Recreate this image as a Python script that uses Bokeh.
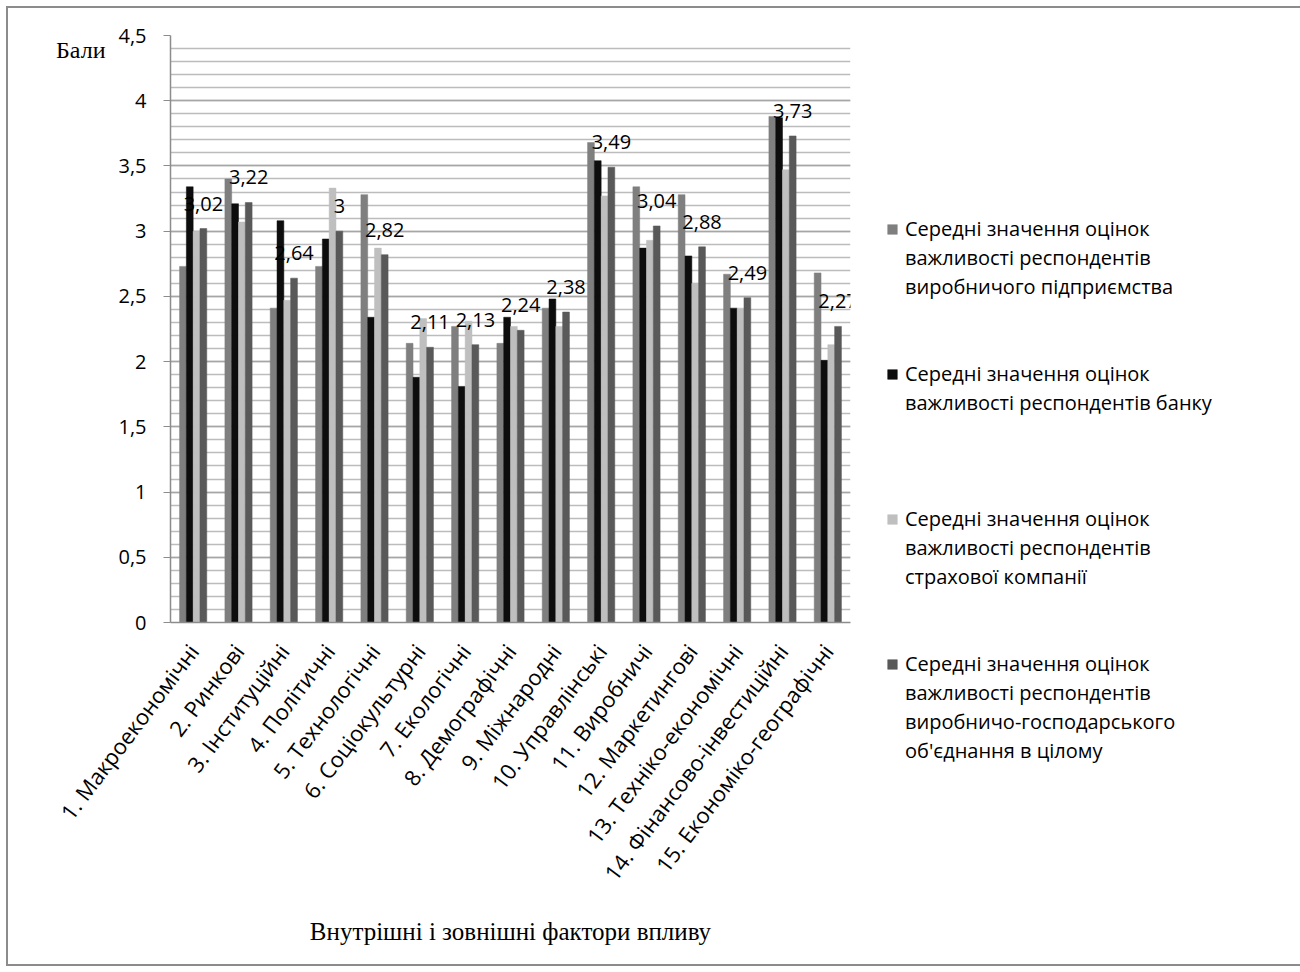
import math
from bokeh.plotting import figure
from bokeh.models import (ColumnDataSource, FactorRange, Range1d, SingleIntervalTicker,
                          FixedTicker, LinearAxis, Legend, LegendItem)
from bokeh.transform import dodge
from bokeh.core.properties import value
from bokeh.embed import file_html
from bokeh.resources import INLINE

categories = ["1. Макроекономічні", "2. Ринкові", "3. Інституційні", "4. Політичні",
              "5. Технологічні", "6. Соціокультурні", "7. Екологічні", "8. Демографічні",
              "9. Міжнародні", "10. Управлінські", "11. Виробничі", "12. Маркетингові",
              "13. Техніко-економічні", "14. Фінансово-інвестиційні", "15. Економіко-географічні"]

enterprise = [2.73, 3.40, 2.41, 2.73, 3.28, 2.14, 2.27, 2.14, 2.41, 3.68, 3.34, 3.28, 2.67, 3.88, 2.68]
bank       = [3.34, 3.21, 3.08, 2.94, 2.34, 1.88, 1.81, 2.34, 2.48, 3.54, 2.87, 2.81, 2.41, 3.87, 2.01]
insurance  = [3.00, 3.07, 2.47, 3.33, 2.87, 2.33, 2.31, 2.27, 2.27, 3.27, 2.93, 2.60, 2.41, 3.47, 2.13]
association = [3.02, 3.22, 2.64, 3.00, 2.82, 2.11, 2.13, 2.24, 2.38, 3.49, 3.04, 2.88, 2.49, 3.73, 2.27]

series_names = [
    "Середні значення оцінок\nважливості респондентів\nвиробничого підприємства",
    "Середні значення оцінок\nважливості респондентів банку",
    "Середні значення оцінок\nважливості респондентів\nстрахової компанії",
    "Середні значення оцінок\nважливості респондентів\nвиробничо-господарського\nоб'єднання в цілому",
]
series_colors = ["#7f7f7f", "#0d0d0d", "#bfbfbf", "#595959"]

y_ticks = [0, 0.5, 1, 1.5, 2, 2.5, 3, 3.5, 4, 4.5]
y_tick_labels = ["0", "0,5", "1", "1,5", "2", "2,5", "3", "3,5", "4", "4,5"]

y_title = "Бали"
x_title = "Внутрішні і зовнішні фактори впливу"

SANS = "Open Sans"
SERIF = "Liberation Serif"

data_labels = [("%g" % v).replace(".", ",") for v in association]

src = ColumnDataSource(dict(cat=categories, s1=enterprise, s2=bank, s3=insurance,
                            s4=association, lab=data_labels))

p = figure(x_range=FactorRange(factors=categories, range_padding=0),
           y_range=Range1d(0, 4.5),
           frame_width=680, frame_height=587,
           min_border_left=162, min_border_top=27, min_border_right=444, min_border_bottom=342,
           output_backend="svg", toolbar_location=None, tools="")
p.styles = {"margin-left": "6px", "margin-top": "6px", "border": "2px solid #8c8c8c"}
p.outline_line_color = None
p.background_fill_color = "white"

bw = 0.15
offsets = [-0.225, -0.075, 0.075, 0.225]
keys = ["s1", "s2", "s3", "s4"]
renderers = []
for k, off, col in zip(keys, offsets, series_colors):
    r = p.vbar(x=dodge("cat", off, range=p.x_range), top=k, width=bw, source=src,
               fill_color=col, line_color=col, line_width=0.5)
    renderers.append(r)

p.text(x=dodge("cat", offsets[3], range=p.x_range), y="s4", text="lab", source=src,
       text_align="center", text_baseline="middle", y_offset=-25,
       text_font=value(SANS), text_font_size="20px", text_color="#000000")

# y axis
yax = p.yaxis[0]
yax.ticker = SingleIntervalTicker(interval=0.5, num_minor_ticks=5)
yax.major_label_overrides = {t: l for t, l in zip(y_ticks, y_tick_labels)}
yax.major_label_text_font = SANS
yax.major_label_text_font_size = "20px"
yax.major_label_text_color = "#000000"
yax.axis_line_color = "#8c8c8c"
yax.axis_line_width = 1.5
yax.major_tick_line_color = "#8c8c8c"
yax.major_tick_out = 7
yax.major_tick_in = 0
yax.minor_tick_line_color = None
yax.major_label_standoff = 17

# "Бали": horizontal caption carried by a bare outer axis
cap = LinearAxis(ticker=FixedTicker(ticks=[]),
                 axis_line_color=None, major_tick_line_color=None, minor_tick_line_color=None,
                 axis_label="\n" + y_title, axis_label_text_font=SERIF,
                 axis_label_text_font_style="normal", axis_label_text_font_size="24px",
                 axis_label_text_line_height=1.15,
                 axis_label_text_color="#000000", axis_label_standoff=10)
_props = cap.properties()
if "axis_label_orientation" in _props:
    cap.axis_label_orientation = "horizontal"
if "axis_label_align" in _props:
    cap.axis_label_align = "end"
p.add_layout(cap, "left")

p.ygrid.grid_line_color = "#a6a6a6"
p.ygrid.grid_line_width = 1.5
p.ygrid.minor_grid_line_color = "#bcbcbc"
p.ygrid.minor_grid_line_width = 1.5
p.xgrid.grid_line_color = None

# x axis
xax = p.xaxis[0]
xax.major_label_orientation = math.radians(53)
xax.major_label_text_font = SANS
xax.major_label_text_font_size = "22px"
xax.major_label_text_color = "#000000"
xax.axis_line_color = "#8c8c8c"
xax.axis_line_width = 1.5
xax.major_tick_line_color = None
xax.minor_tick_line_color = None
xax.major_label_standoff = 18
xax.axis_label = x_title
xax.axis_label_text_font = SERIF
xax.axis_label_text_font_style = "normal"
xax.axis_label_text_font_size = "25px"
xax.axis_label_text_color = "#000000"
xax.axis_label_standoff = 20

# series legend on the right: one legend row per text line, swatch on the first line
dummy = p.scatter(x=[], y=[], fill_alpha=0, line_alpha=0)
blank_rows = [2, 3, 2, 0]
items = []
for name, r, nb in zip(series_names, renderers, blank_rows):
    lines = name.split("\n")
    items.append(LegendItem(label=lines[0], renderers=[r]))
    for ln in lines[1:]:
        items.append(LegendItem(label=ln, renderers=[dummy]))
    for _ in range(nb):
        items.append(LegendItem(label=" ", renderers=[dummy]))

legend = Legend(items=items, location=(36, -143), margin=0, padding=0, spacing=0,
                border_line_color=None, background_fill_alpha=0,
                glyph_width=12, glyph_height=12, label_standoff=7,
                label_text_font=SANS, label_text_font_size="20px",
                label_text_line_height=1.2, label_text_color="#000000",
                label_height=29)
p.add_layout(legend, "right")

open("out.html", "w").write(file_html(p, INLINE))
